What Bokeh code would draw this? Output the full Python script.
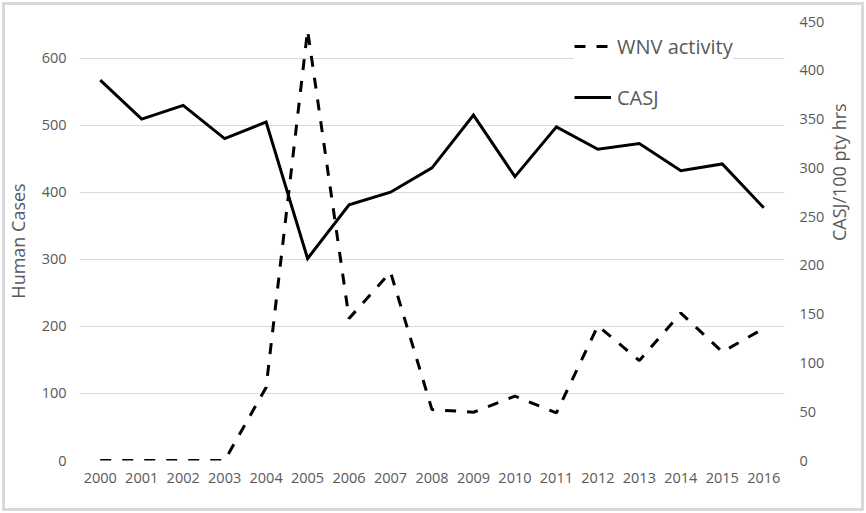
import math
from bokeh.plotting import figure
from bokeh.models import (FactorRange, Range1d, LinearAxis, FixedTicker, Legend, LegendItem,
                          ColumnDataSource)
from bokeh.embed import file_html
from bokeh.resources import INLINE

years = [str(y) for y in range(2000, 2017)]
wnv_cases = [0, 0, 0, 0, 109, 642, 212, 281, 76, 72, 96, 71, 201, 149, 220, 162, 197]
casj = [390, 350, 364, 330, 347, 207, 262, 275, 300, 354, 291, 342, 319, 325, 297, 304, 259]
left_ticks = [0, 100, 200, 300, 400, 500, 600]
right_ticks = [0, 50, 100, 150, 200, 250, 300, 350, 400, 450]

FONT = "Open Sans"
GREY = "#595959"

src = ColumnDataSource(dict(year=years, wnv=wnv_cases, casj=casj))

p = figure(width=866, height=513, output_backend="svg", toolbar_location=None,
           x_range=FactorRange(*years, range_padding=0), y_range=Range1d(0, 655),
           min_border_left=79, min_border_right=81, min_border_top=21, min_border_bottom=53)
p.extra_y_ranges = {"right": Range1d(0, 450)}
p.outline_line_color = None
p.background_fill_color = "white"
p.border_fill_color = None
p.styles = {"box-shadow": "inset 0 0 0 2px white, inset 0 0 0 5px #d9d9d9",
            "background-color": "white"}

wnv_r = p.line("year", "wnv", source=src, line_color="black", line_width=3, line_dash="11 11")
casj_r = p.line("year", "casj", source=src, line_color="black", line_width=3,
                y_range_name="right", line_join="miter")

right_axis = LinearAxis(y_range_name="right", axis_label="CASJ/100 pty hrs",
                        ticker=FixedTicker(ticks=right_ticks))
p.add_layout(right_axis, "right")

p.yaxis[0].ticker = FixedTicker(ticks=left_ticks)
p.yaxis[0].axis_label = "Human Cases"

for ax in p.axis:
    ax.axis_line_color = None
    ax.major_tick_line_color = None
    ax.minor_tick_line_color = None
    ax.major_tick_out = 0
    ax.major_tick_in = 0
    ax.minor_tick_out = 0
    ax.minor_tick_in = 0
    ax.major_label_text_font = FONT
    ax.major_label_text_font_size = "14.5px"
    ax.major_label_text_color = GREY
    ax.axis_label_text_font = FONT
    ax.axis_label_text_font_size = "18px"
    ax.axis_label_text_color = GREY
    ax.axis_label_text_font_style = "normal"

p.xaxis.major_label_standoff = 12
p.yaxis[0].major_label_standoff = 13
p.yaxis[0].axis_label_standoff = 9
right_axis.major_label_standoff = 15
right_axis.axis_label_standoff = 12
right_axis.axis_label_orientation = math.pi / 2

p.xgrid.grid_line_color = None
p.ygrid.grid_line_color = "#d9d9d9"
p.ygrid.grid_line_width = 1

legend = Legend(items=[LegendItem(label="WNV activity", renderers=[wnv_r]),
                       LegendItem(label="CASJ", renderers=[casj_r])],
                location=(495, 348), padding=10, spacing=21,
                glyph_width=37, glyph_height=30, label_height=30, label_standoff=6,
                label_text_font=FONT, label_text_font_size="20px", label_text_color=GREY,
                border_line_color=None, background_fill_color="white", background_fill_alpha=1.0)
p.add_layout(legend, "center")

open("out.html", "w").write(file_html(p, INLINE))
